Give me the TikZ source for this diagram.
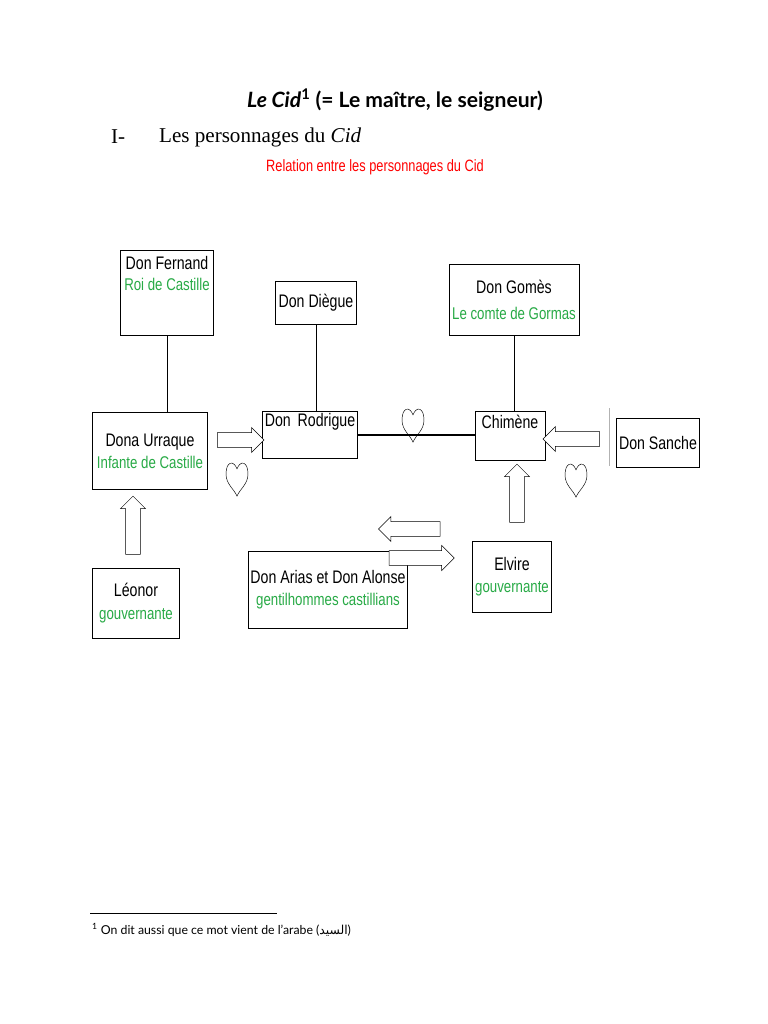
\documentclass[tikz,border=0pt]{standalone}
\usepackage{fontspec}
\setmainfont{Liberation Serif}
\newfontfamily\diag{Liberation Sans}[FakeStretch=0.78]
\newfontfamily\titlefont{Lato}
\newfontfamily\arabicfont[Script=Arabic]{DejaVu Sans}
\usetikzlibrary{positioning, shapes.arrows}
\definecolor{persgreen}{RGB}{40,170,70}

\begin{document}
\begin{tikzpicture}[
    x=0.03cm, y=-0.03cm,
    perso/.style={rectangle, draw, thick, fill=white, align=center, font=\diag\fontsize{15.5}{19}\selectfont, inner sep=2pt},
    link/.style={thick},
    blockarrow/.style={single arrow, draw, fill=white, minimum height=1.6cm, minimum width=0.75cm, single arrow head extend=0.12cm, inner sep=0.17cm},
    heart/.pic={\draw (0,-10) .. controls (-3,-19) and (-11,-18) .. (-11,-5) .. controls (-11,5) and (-3,10) .. (0,17) .. controls (3,10) and (11,5) .. (11,-5) .. controls (11,-18) and (3,-19) .. (0,-10);}
]
\useasboundingbox (0,0) rectangle (768,1024);

% Title lines
\node (titre) at (395,100) {\titlefont\fontsize{18}{21}\selectfont\bfseries\textit{Le Cid}\textsuperscript{1} (= Le maître, le seigneur)};
\node[anchor=west] (num) at (107,137) {\fontsize{18}{21}\selectfont I-};
\node[anchor=west] (partie) at (155,137) {\fontsize{18}{21}\selectfont Les personnages du \textit{Cid}};
\node (relation) at (375,167) {\diag\fontsize{14}{16}\selectfont\color{red}Relation entre les personnages du Cid};

% Characters
\node[perso, minimum width=2.8cm, minimum height=2.55cm] (fernand) at (167,293) {Don Fernand\\[-1pt]{\color{persgreen}\fontsize{14.5}{17}\selectfont Roi de Castille}\\[14pt]};
\node[perso, minimum width=2.45cm, minimum height=1.3cm] (diegue) at (316,303) {Don Diègue};
\node[perso, minimum width=3.9cm, minimum height=2.15cm] (gomes) at (514,300) {Don Gomès\\[3pt]{\color{persgreen}\fontsize{14.5}{17}\selectfont Le comte de Gormas}};
\node[perso, minimum width=3.45cm, minimum height=2.3cm] (urraque) at (150,451) {Dona Urraque\\{\color{persgreen}\fontsize{14.5}{17}\selectfont Infante de Castille}};
\node[perso, minimum width=2.85cm, minimum height=1.35cm] (rodrigue) at (310,435) {Don\, Rodrigue\\[6pt]};
\node[perso, minimum width=2.1cm, minimum height=1.45cm] (chimene) at (510,436) {Chimène\\[6pt]};
\node[perso, minimum width=2.5cm, minimum height=1.45cm] (sanche) at (658,443) {Don Sanche};
\node[perso, minimum width=2.6cm, minimum height=2.1cm] (leonor) at (136,603) {Léonor\\{\color{persgreen}\fontsize{14.5}{17}\selectfont gouvernante}};
\node[perso, minimum width=4.75cm, minimum height=2.3cm] (arias) at (328,590) {Don Arias et Don Alonse\\{\color{persgreen}\fontsize{14.5}{17}\selectfont gentilhommes castillians}};
\node[perso, minimum width=2.2cm, minimum height=2.15cm] (elvire) at (512,577) {Elvire\\{\color{persgreen}\fontsize{14.5}{17}\selectfont gouvernante}};

% Family and love links
\draw[link] (fernand.south) -- (urraque.north -| fernand.south);
\draw[link] (diegue.south) -- (rodrigue.north -| diegue.south);
\draw[link] (gomes.south) -- (chimene.north -| gomes.south);
\draw[link, very thick] (rodrigue.east) -- (chimene.west |- rodrigue.east);
\coordinate (barre1) at (609,408);
\coordinate (barre2) at (609,466);
\draw[gray!60] (barre1) -- (barre2);

% Block arrows
\node[blockarrow, minimum height=1.4cm] (a1) at (237,440) {};
\node[blockarrow, shape border rotate=180, minimum height=1.7cm] (a2) at (575,439) {};
\node[blockarrow, shape border rotate=90, minimum height=1.75cm] (a3) at (133,529) {};
\node[blockarrow, shape border rotate=90, minimum height=1.75cm] (a4) at (517,497) {};
\node[blockarrow, shape border rotate=180, minimum height=1.85cm] (a5) at (413,529) {};
\node[blockarrow, minimum height=1.95cm] (a6) at (418,558) {};

% Hearts
\pic at (413,425) {heart};
\pic at (237,479) {heart};
\pic at (576,480) {heart};

% Footnote
\coordinate (fn1) at (90,913);
\coordinate (fn2) at (277,913);
\draw[thin] (fn1) -- (fn2);
\node[anchor=west] (note) at (88,930) {\titlefont\fontsize{10.5}{12}\selectfont\textsuperscript{1} On dit aussi que ce mot vient de l’arabe ({\arabicfont السيد})};
\end{tikzpicture}
\end{document}
